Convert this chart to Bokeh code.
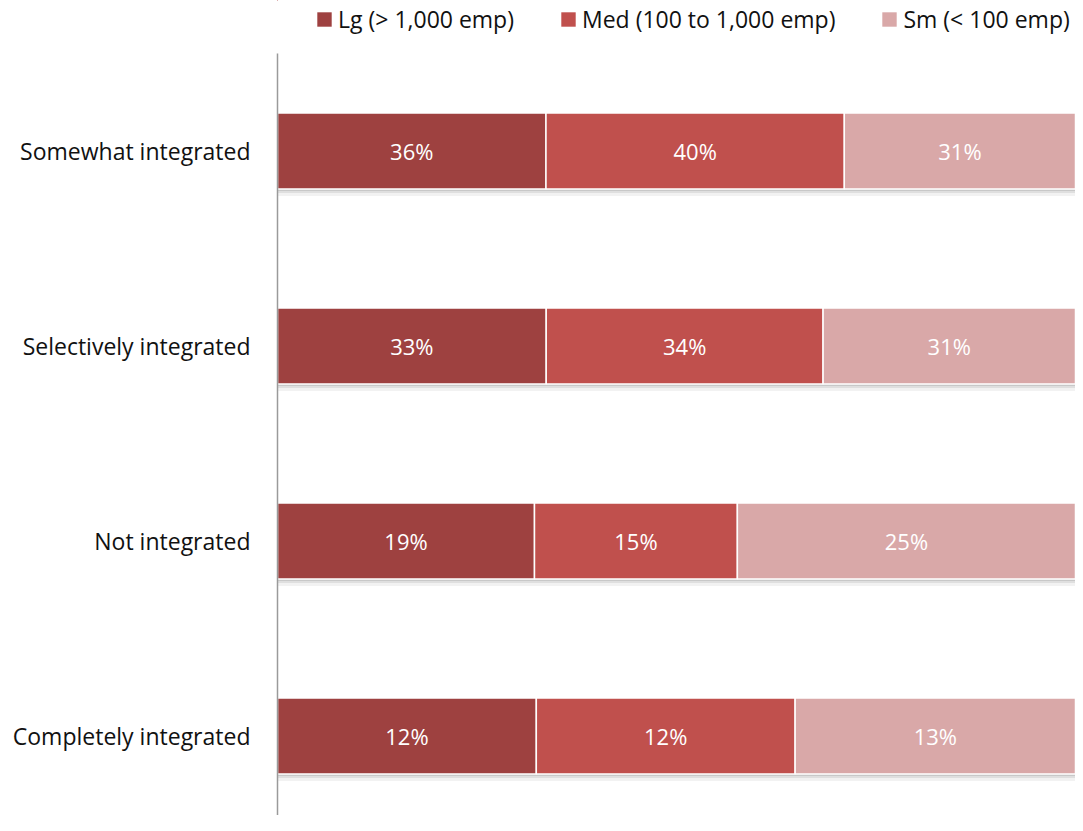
from bokeh.plotting import figure
from bokeh.layouts import column
from bokeh.models import ColumnDataSource, Range1d, FixedTicker, Legend, LegendItem
from bokeh.core.properties import value
from bokeh.embed import file_html
from bokeh.resources import INLINE

# ---- data (bottom to top) ----
categories = ["Completely integrated", "Not integrated", "Selectively integrated", "Somewhat integrated"]
lg = [12, 19, 33, 36]
med = [12, 15, 34, 40]
sm = [13, 25, 31, 31]
series_names = ["Lg (> 1,000 emp)", "Med (100 to 1,000 emp)", "Sm (< 100 emp)"]
colors = ["#9E4140", "#C0504D", "#D9A8A8"]

FONT = "Open Sans"
FS = "22px"
BAR_H = 0.39
W = 1075
TOP_H = 53
MAIN_H = 762
BAND = 195.0
LEFT = 277

ys = list(range(len(categories)))
series = [lg, med, sm]
totals = [a + b + c for a, b, c in zip(lg, med, sm)]

# ---- main chart ----
p = figure(width=W, height=MAIN_H, output_backend="svg", toolbar_location=None,
           x_range=Range1d(0, 1), y_range=Range1d(3.5 - MAIN_H / BAND, 3.5),
           x_axis_location=None, min_border_left=LEFT, min_border_top=0,
           min_border_bottom=0, min_border_right=0)
p.outline_line_color = None
p.grid.visible = False

# soft shadow under bars
for off, alpha in [(2 / BAND, 0.10), (4 / BAND, 0.08), (7 / BAND, 0.05)]:
    p.hbar(y=[y - off for y in ys], left=0, right=1.004, height=BAR_H,
           fill_color="black", fill_alpha=alpha, line_color=None)

sources = []
left = [0.0] * len(ys)
for name, vals, col in zip(series_names, series, colors):
    frac = [v / t for v, t in zip(vals, totals)]
    right = [l + f for l, f in zip(left, frac)]
    src = ColumnDataSource(dict(y=ys, left=left, right=right,
                                mid=[(l + r) / 2 for l, r in zip(left, right)],
                                label=[f"{v}%" for v in vals]))
    sources.append(src)
    p.hbar(y="y", left="left", right="right", height=BAR_H, source=src,
           fill_color=col, line_color="white", line_width=1.5)
    p.text(x="mid", y="y", text="label", source=src, text_color="white",
           text_font=value(FONT), text_font_size=FS, text_align="center",
           text_baseline="middle")
    left = right

ax = p.yaxis[0]
ax.ticker = FixedTicker(ticks=ys)
ax.major_label_overrides = {i: c for i, c in enumerate(categories)}
ax.major_tick_line_color = None
ax.minor_tick_line_color = None
ax.axis_line_color = "#9a9a9a"
ax.axis_line_width = 1.5
ax.major_label_text_font = FONT
ax.major_label_text_font_size = "23px"
ax.major_label_text_color = "#111111"
ax.major_label_standoff = 21

# ---- legend strip on top (same bars, far out of view; only legend shows) ----
lf = figure(width=W, height=TOP_H, output_backend="svg", toolbar_location=None,
            x_range=Range1d(100, 101), y_range=Range1d(-100, -99),
            x_axis_location=None, y_axis_location=None,
            min_border_left=LEFT, min_border_right=0, min_border_top=0, min_border_bottom=0)
lf.outline_line_color = None
lf.grid.visible = False
items = []
for name, col, src in zip(series_names, colors, sources):
    r = lf.hbar(y="y", left="left", right="right", height=BAR_H, source=src,
                fill_color=col, line_color=None)
    items.append(LegendItem(label=name, renderers=[r]))
legend = Legend(items=items, orientation="horizontal", location=(315 - LEFT, 18),
                glyph_width=18, glyph_height=18, label_standoff=5, spacing=45,
                padding=0, margin=0, border_line_color=None, background_fill_alpha=0,
                label_text_font=FONT, label_text_font_size="23px", label_text_color="#111111")
lf.add_layout(legend, "center")

layout = column(lf, p, spacing=0)
open("out.html", "w").write(file_html(layout, INLINE))
